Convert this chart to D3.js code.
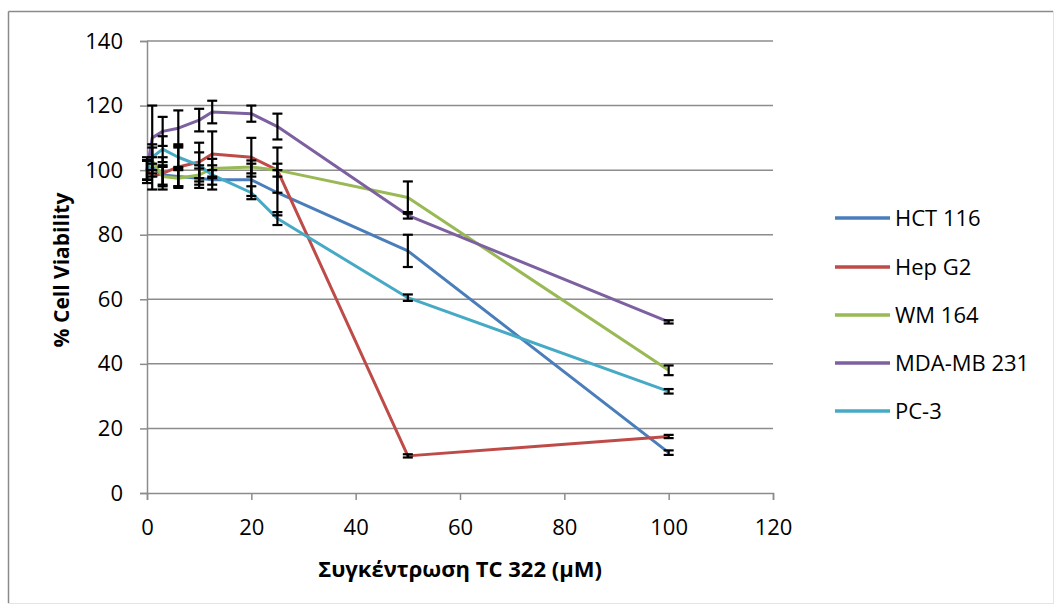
<!DOCTYPE html>
<html>
<head>
<meta charset="utf-8">
<script src="https://cdn.jsdelivr.net/npm/d3@7"></script>
<style>
  body { margin: 0; background: #fff; }
  svg text { font-family: "Open Sans", sans-serif; fill: #000; }
</style>
</head>
<body>
<svg id="chart" width="1059" height="610"></svg>
<script>
// ---- data ----
const concentrations = [0, 1, 3, 6, 10, 12.5, 20, 25, 50, 100];
const seriesNames = ["HCT 116", "Hep G2", "WM 164", "MDA-MB 231", "PC-3"];
const seriesColors = ["#4a7ebb", "#be4b48", "#98b954", "#7d60a0", "#46aac5"];
const hct116 = [100, 101, 98.5, 98, 97.5, 97, 97, 93, 75, 12.5];
const hepG2 = [100, 98, 99, 101, 102.5, 105, 104, 100, 11.5, 17.5];
const wm164 = [100, 103, 98, 97.5, 98.5, 100.5, 101, 100, 91.5, 38];
const mdaMb231 = [100, 110, 112, 113, 115.5, 118, 117.5, 113.5, 86, 53];
const pc3 = [100, 104, 106.5, 104, 101.5, 98.5, 93, 85, 60.5, 31.5];
const hct116Err = [3, 3, 3, 3, 3, 3, 5, 7, 5, 0.7];
const hepG2Err = [3, 4, 5, 6, 6, 7, 6, 7, 0.5, 0.5];
const wm164Err = [3, 4, 3, 3, 3, 3, 2, 2, 5, 1.5];
const mdaMb231Err = [4, 10, 4.5, 5.5, 3.5, 3.5, 2.5, 4, 1, 0.5];
const pc3Err = [3, 4, 4, 4, 4, 3, 2, 2, 1, 0.7];
const xTicks = [0, 20, 40, 60, 80, 100, 120];
const yTicks = [0, 20, 40, 60, 80, 100, 120, 140];
const xTitle = "Συγκέντρωση TC 322 (μM)";
const yTitle = "% Cell Viability";

const allValues = [hct116, hepG2, wm164, mdaMb231, pc3];
const allErrors = [hct116Err, hepG2Err, wm164Err, mdaMb231Err, pc3Err];
const series = seriesNames.map((name, i) => ({
  name, color: seriesColors[i],
  points: concentrations.map((c, j) => ({ x: c, y: allValues[i][j], e: allErrors[i][j] }))
}));

// ---- layout ----
const svg = d3.select("#chart");
const plot = { left: 147, right: 773, top: 41, bottom: 493 };

// outer chart border
svg.append("rect").attr("x", 8.5).attr("y", 11.5).attr("width", 1045).attr("height", 592)
  .attr("fill", "none").attr("stroke", "#e4e4e4").attr("stroke-width", 1);
svg.append("line").attr("x1", 8.5).attr("x2", 8.5).attr("y1", 11.5).attr("y2", 603)
  .attr("stroke", "#8a8a8a").attr("stroke-width", 1.5);
svg.append("line").attr("x1", 8.5).attr("x2", 1053).attr("y1", 11.5).attr("y2", 11.5)
  .attr("stroke", "#8a8a8a").attr("stroke-width", 1.5);

const x = d3.scaleLinear().domain([0, 120]).range([plot.left, plot.right]);
const y = d3.scaleLinear().domain([0, 140]).range([plot.bottom, plot.top]);

// gridlines
svg.append("g").selectAll("line").data(yTicks.filter(t => t > 0)).join("line")
  .attr("x1", plot.left).attr("x2", plot.right)
  .attr("y1", d => y(d)).attr("y2", d => y(d))
  .attr("stroke", "#8c8c8c").attr("stroke-width", 1.5);

// axes
const xAxis = d3.axisBottom(x).tickValues(xTicks).tickSize(7).tickPadding(19);
const yAxis = d3.axisLeft(y).tickValues(yTicks).tickSize(7).tickPadding(17);
const gx = svg.append("g").attr("transform", `translate(0,${plot.bottom})`).call(xAxis);
const gy = svg.append("g").attr("transform", `translate(${plot.left},0)`).call(yAxis);
[gx, gy].forEach(g => {
  g.select(".domain").attr("stroke", "#8c8c8c").attr("stroke-width", 1.5);
  g.selectAll(".tick line").attr("stroke", "#8c8c8c").attr("stroke-width", 1.5);
  g.selectAll(".tick text").style("font-family", "'Open Sans', sans-serif")
    .style("font-size", "22px").attr("fill", "#000");
});

// lines
const line = d3.line().x(d => x(d.x)).y(d => y(d.y));
svg.append("g").selectAll("path").data(series).join("path")
  .attr("d", d => line(d.points))
  .attr("fill", "none").attr("stroke", d => d.color)
  .attr("stroke-width", 3).attr("stroke-linejoin", "round");

// error bars
const eb = svg.append("g").attr("stroke", "#000").attr("stroke-width", 2.2);
series.forEach(s => {
  s.points.forEach(p => {
    const cx = x(p.x), y1 = y(p.y + p.e), y2 = y(p.y - p.e);
    eb.append("line").attr("x1", cx).attr("x2", cx).attr("y1", y1).attr("y2", y2);
    eb.append("line").attr("x1", cx - 5).attr("x2", cx + 5).attr("y1", y1).attr("y2", y1);
    eb.append("line").attr("x1", cx - 5).attr("x2", cx + 5).attr("y1", y2).attr("y2", y2);
  });
});

// axis titles
svg.append("text").attr("x", (plot.left + plot.right) / 2).attr("y", 577)
  .attr("text-anchor", "middle").style("font-size", "22px").style("font-weight", "bold")
  .text(xTitle);
svg.append("text").attr("transform", `translate(69,${(plot.top + plot.bottom) / 2 + 3}) rotate(-90)`)
  .attr("text-anchor", "middle").style("font-size", "21px").style("font-weight", "bold")
  .text(yTitle);

// legend
const legendY = [218, 267, 315, 363, 411];
const lg = svg.append("g");
series.forEach((s, i) => {
  lg.append("line").attr("x1", 835).attr("x2", 890)
    .attr("y1", legendY[i]).attr("y2", legendY[i])
    .attr("stroke", s.color).attr("stroke-width", 3.5);
  lg.append("text").attr("x", 895).attr("y", legendY[i]).attr("dy", "0.36em")
    .style("font-size", "22px").text(s.name);
});
</script>
</body>
</html>
